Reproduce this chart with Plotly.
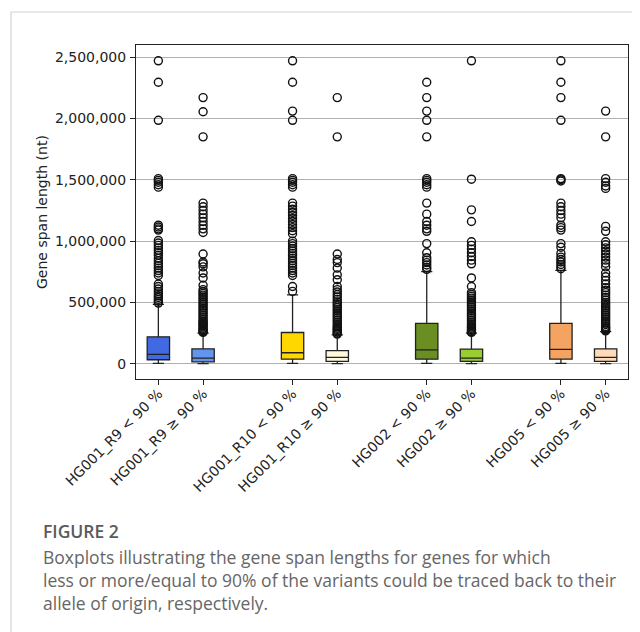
import plotly.graph_objects as go

# ---------------- data ----------------
groups = ["HG001_R9", "HG001_R10", "HG002", "HG005"]
labels = ["HG001_R9 < 90 %", "HG001_R9 ≥ 90 %",
          "HG001_R10 < 90 %", "HG001_R10 ≥ 90 %",
          "HG002 < 90 %", "HG002 ≥ 90 %",
          "HG005 < 90 %", "HG005 ≥ 90 %"]

q1 = [33000, 16000, 38000, 19000, 38000, 19000, 38000, 19000]
median = [76000, 46000, 90000, 52000, 114000, 46000, 117000, 52000]
q3 = [220000, 122000, 255000, 108000, 329000, 120000, 329000, 122000]
lowerfence = [3000, 1000, 3000, 1000, 3000, 1000, 3000, 1000]
upperfence = [485000, 250000, 562000, 236000, 752000, 250000, 762000, 263000]

out_hg001_r9_lt = [2470000, 2295000, 1985000, 1510000, 1495000, 1480000, 1460000, 1440000,
                   1130000, 1115000, 1100000, 1090000, 1005000, 985000, 965000, 945000,
                   925000, 905000, 885000, 860000, 840000, 820000, 800000, 780000, 760000,
                   740000, 720000, 650000, 630000, 610000, 590000, 570000, 555000, 540000,
                   525000, 510000, 495000]
out_hg001_r9_ge = [2170000, 2055000, 1850000, 1310000, 1280000, 1250000, 1220000, 1190000,
                   1160000, 1130000, 1100000, 1070000, 895000, 830000, 815000, 790000,
                   740000, 700000, 640000, 605000, 590000, 575000, 560000, 545000, 530000,
                   515000, 500000, 485000, 470000, 455000, 440000, 425000, 410000, 395000,
                   380000, 365000, 350000, 340000, 330000, 320000, 310000, 300000, 290000,
                   280000, 270000, 262000, 256000]
out_hg001_r10_lt = [2470000, 2295000, 2060000, 1985000, 1510000, 1495000, 1480000, 1460000,
                    1440000, 1310000, 1285000, 1260000, 1235000, 1210000, 1185000, 1160000,
                    1135000, 1110000, 1085000, 1060000, 1000000, 980000, 960000, 940000,
                    920000, 900000, 880000, 860000, 840000, 820000, 800000, 780000, 760000,
                    740000, 720000, 630000, 590000]
out_hg001_r10_ge = [2170000, 1850000, 895000, 850000, 825000, 780000, 725000, 685000, 630000,
                    605000, 585000, 565000, 545000, 525000, 505000, 490000, 475000, 460000,
                    445000, 430000, 415000, 400000, 385000, 370000, 355000, 340000, 325000,
                    310000, 300000, 290000, 280000, 270000, 260000, 250000, 242000]
out_hg002_lt = [2295000, 2170000, 2060000, 1985000, 1850000, 1510000, 1495000, 1480000,
                1460000, 1440000, 1310000, 1220000, 1160000, 1130000, 1100000, 1080000,
                980000, 905000, 865000, 845000, 825000, 805000, 785000, 770000]
out_hg002_ge = [2470000, 1505000, 1255000, 1160000, 995000, 965000, 935000, 905000, 875000,
                845000, 815000, 700000, 630000, 580000, 565000, 550000, 535000, 520000,
                505000, 490000, 475000, 460000, 445000, 430000, 415000, 400000, 385000,
                370000, 355000, 340000, 325000, 310000, 300000, 290000, 280000, 270000,
                262000, 256000]
out_hg005_lt = [2470000, 2295000, 2170000, 1985000, 1510000, 1500000, 1490000, 1310000,
                1280000, 1250000, 1220000, 1190000, 1130000, 1110000, 1090000, 980000,
                950000, 900000, 870000, 850000, 830000, 810000, 790000, 775000]
out_hg005_ge = [2060000, 1850000, 1510000, 1480000, 1450000, 1430000, 1120000, 1080000,
                995000, 970000, 945000, 920000, 895000, 870000, 845000, 820000, 790000,
                740000, 710000, 680000, 650000, 620000, 600000, 580000, 560000, 540000,
                520000, 500000, 485000, 470000, 455000, 440000, 425000, 410000, 395000,
                380000, 365000, 350000, 335000, 320000, 305000, 295000, 285000, 275000,
                268000]
outliers = [out_hg001_r9_lt, out_hg001_r9_ge, out_hg001_r10_lt, out_hg001_r10_ge,
            out_hg002_lt, out_hg002_ge, out_hg005_lt, out_hg005_ge]

y_ticks = [0, 500000, 1000000, 1500000, 2000000, 2500000]
y_ticktext = ["0", "500,000", "1,000,000", "1,500,000", "2,000,000", "2,500,000"]

caption_title = "FIGURE 2"
caption_lines = ["Boxplots illustrating the gene span lengths for genes for which",
                 "less or more/equal to 90% of the variants could be traced back to their",
                 "allele of origin, respectively."]

# ---------------- styles ----------------
colors = ["#4169E1", "#6495ED", "#FFD700", "#FFF8DC",
          "#6B8E23", "#9ACD32", "#F4A460", "#FFDAB9"]

OFF = 8  # page body margin
W, H = 640 - OFF, 632 - OFF
# plot area in page pixels
PL, PR, PT, PB = 136, 628, 45, 379
L, R, T, B = PL - OFF, PR - OFF, PT - OFF, PB - OFF


def px_x(p):  # page pixel -> paper
    return (p - OFF - L) / (R - L)


def px_y(p):
    return (B - (p - OFF)) / (B - T)


positions = [3 * (i // 2) + (i % 2) + 1 for i in range(len(labels))]

fig = go.Figure()
for i, lab in enumerate(labels):
    fig.add_trace(go.Box(
        x=[positions[i]], q1=[q1[i]], median=[median[i]], q3=[q3[i]],
        lowerfence=[lowerfence[i]], upperfence=[upperfence[i]],
        width=0.5, whiskerwidth=0.5, fillcolor=colors[i],
        line=dict(color="#222222", width=1.3), boxpoints=False,
        name=lab, showlegend=False, hoverinfo="skip"))
    fig.add_trace(go.Scatter(
        x=[positions[i]] * len(outliers[i]), y=outliers[i], mode="markers",
        marker=dict(symbol="circle-open", size=8, color="#111111",
                    line=dict(width=1.4, color="#111111")),
        showlegend=False, hoverinfo="skip"))

axis_font = dict(family="DejaVu Sans", size=14, color="#222222")

fig.update_layout(
    width=W, height=H,
    margin=dict(l=L, r=W - R, t=T, b=H - B, autoexpand=False),
    paper_bgcolor="white", plot_bgcolor="white",
    showlegend=False,
    xaxis=dict(range=[0.5, 11.5], tickmode="array", tickvals=positions, ticktext=labels,
               tickangle=-45, ticks="outside", ticklen=5, tickcolor="#222222",
               showgrid=False, zeroline=False, showline=True, mirror=True,
               linecolor="#222222", linewidth=1, tickfont=axis_font, automargin=False,
               ticklabelstandoff=-5),
    yaxis=dict(range=[-124000, 2599000], tickmode="array", tickvals=y_ticks,
               ticktext=y_ticktext, ticks="outside", ticklen=5, tickcolor="#222222",
               showgrid=True, gridcolor="#b0b0b0", gridwidth=1, zeroline=False,
               showline=True, mirror=True, linecolor="#222222", linewidth=1,
               tickfont=axis_font, automargin=False, ticklabelstandoff=1),
)

# y-axis title
fig.add_annotation(text="Gene span length (nt)", textangle=-90, x=px_x(42), y=0.5,
                   xref="paper", yref="paper", xanchor="center", yanchor="middle",
                   showarrow=False, font=axis_font)

# card border
fig.add_shape(type="rect", xref="paper", yref="paper",
              x0=px_x(11), x1=px_x(700), y0=px_y(700), y1=px_y(12),
              line=dict(color="#d4d4d4", width=1.2), fillcolor="rgba(0,0,0,0)",
              layer="below")

# caption
cap_font = dict(family="Open Sans", size=17.5, color="#666666")
fig.add_annotation(text=caption_title, x=px_x(41), y=px_y(531), xref="paper", yref="paper",
                   xanchor="left", yanchor="middle", showarrow=False,
                   font=dict(family="Open Sans", size=17.5, color="#5a5a5a", weight=600))
for k, line in enumerate(caption_lines):
    fig.add_annotation(text=line, x=px_x(41), y=px_y(557 + 23 * k), xref="paper",
                       yref="paper", xanchor="left", yanchor="middle", showarrow=False,
                       font=cap_font)

fig.write_html("out.html")
